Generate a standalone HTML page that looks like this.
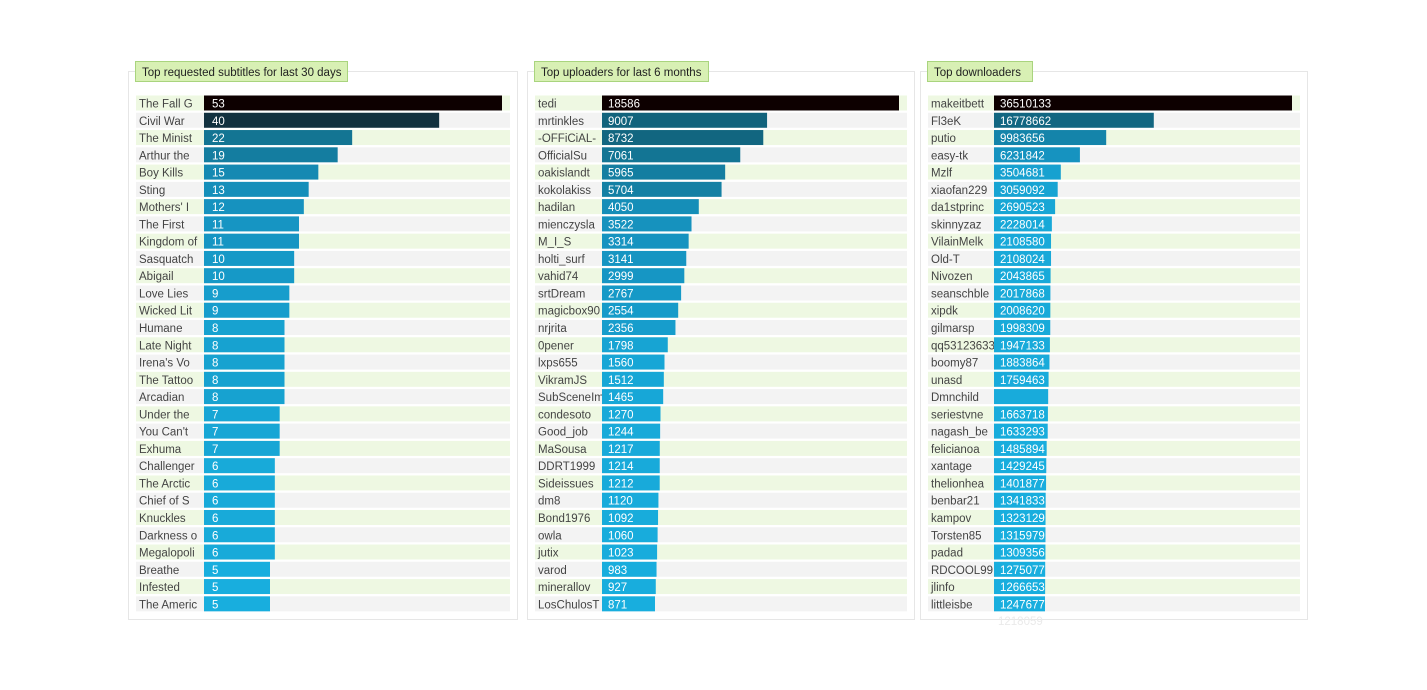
<!DOCTYPE html>
<html><head><meta charset="utf-8"><style>
body{margin:0;background:#fff;font-family:"Liberation Sans",Arial,sans-serif;}
svg text{font-family:"Liberation Sans",Arial,sans-serif;}
</style></head><body>
<svg id="chart" width="1427" height="685" xmlns="http://www.w3.org/2000/svg"></svg>
<script>
const subNames=["The Fall G","Civil War","The Minist","Arthur the","Boy Kills","Sting","Mothers' I","The First","Kingdom of","Sasquatch","Abigail","Love Lies","Wicked Lit","Humane","Late Night","Irena's Vo","The Tattoo","Arcadian","Under the","You Can't","Exhuma","Challenger","The Arctic","Chief of S","Knuckles","Darkness o","Megalopoli","Breathe","Infested","The Americ"];
const subValues=[53,40,22,19,15,13,12,11,11,10,10,9,9,8,8,8,8,8,7,7,7,6,6,6,6,6,6,5,5,5];
const upNames=["tedi","mrtinkles","-OFFiCiAL-","OfficialSu","oakislandt","kokolakiss","hadilan","mienczysla","M_I_S","holti_surf","vahid74","srtDream","magicbox90","nrjrita","0pener","lxps655","VikramJS","SubSceneIm","condesoto","Good_job","MaSousa","DDRT1999","Sideissues","dm8","Bond1976","owla","jutix","varod","minerallov","LosChulosT"];
const upValues=[18586,9007,8732,7061,5965,5704,4050,3522,3314,3141,2999,2767,2554,2356,1798,1560,1512,1465,1270,1244,1217,1214,1212,1120,1092,1060,1023,983,927,871];
const downNames=["makeitbett","Fl3eK","putio","easy-tk","Mzlf","xiaofan229","da1stprinc","skinnyzaz","VilainMelk","Old-T","Nivozen","seanschble","xipdk","gilmarsp","qq53123633","boomy87","unasd","Dmnchild","seriestvne","nagash_be","felicianoa","xantage","thelionhea","benbar21","kampov","Torsten85","padad","RDCOOL99","jlinfo","littleisbe"];
const downValues=[36510133,16778662,9983656,6231842,3504681,3059092,2690523,2228014,2108580,2108024,2043865,2017868,2008620,1998309,1947133,1883864,1759463,1700000,1663718,1633293,1485894,1429245,1401877,1341833,1323129,1315979,1309356,1275077,1266653,1247677];
const downLabels=downValues.map((v,i)=>i===17?"":String(v));
const titles=["Top requested subtitles for last 30 days","Top uploaders for last 6 months","Top downloaders"];

const NS="http://www.w3.org/2000/svg";
const svg=document.getElementById('chart');
function mk(tag,attrs,parent){const e=document.createElementNS(NS,tag);for(const k in attrs)e.setAttribute(k,attrs[k]);(parent||svg).appendChild(e);return e;}
const stops=[[0,[24,174,222]],[0.12,[22,150,196]],[0.4,[18,110,138]],[0.75,[18,45,58]],[1,[13,0,0]]];
function col(t){for(let i=1;i<stops.length;i++){if(t<=stops[i][0]){const a=stops[i-1],b=stops[i];const f=(t-a[0])/(b[0]-a[0]);const c=a[1].map((x,j)=>Math.round(x+(b[1][j]-x)*f));return `rgb(${c})`;}}return 'rgb(13,0,0)';}

const panels=[
 {x:128,w:389,hw:212,names:subNames,vals:subValues,labels:subValues.map(String),bx:204,name:'requested-subtitles'},
 {x:527,w:387,hw:174,names:upNames,vals:upValues,labels:upValues.map(String),bx:602,name:'top-uploaders'},
 {x:920,w:387,hw:105,names:downNames,vals:downValues,labels:downLabels,bx:994,name:'top-downloaders'}
];
panels.forEach((p,pi)=>{
 const g=mk('g',{});
 
 
 mk('rect',{x:p.x+0.5,y:71.5,width:p.w,height:548,fill:'#fff',stroke:'#e6e6e6'},g);
 const hr=mk('rect',{x:p.x+7.5,y:61.5,width:p.hw,height:20,fill:'#d8f0b4',stroke:'#a9d47e'},g);
 
 
 const ht=mk('text',{x:p.x+14,y:76,'font-size':11.5,fill:'#222'},g);
 ht.textContent=titles[pi];
 
 
 const max=Math.max(...p.vals),min=Math.min(...p.vals);
 const maxEnd=p.x+p.w-15, minW=(pi===0?66:(pi===1?53:51));
 const b=(maxEnd-p.bx-minW)/(max-min);
 const xw=v=>minW+(v-min)*b;
 p.names.forEach((n,i)=>{
  const y=95.5+i*17.27;
  const row=mk('rect',{x:p.x+8,y:y,width:p.w-15,height:15,fill:i%2===0?'#eef8e2':'#f3f3f3'},g);
  
  
  const lt=mk('text',{x:p.x+11,y:y+12,'font-size':11.5,fill:'#444'},g);
  lt.textContent=n;
  
  
  const v=p.vals[i];
  const bar=mk('rect',{x:p.bx,y:y,width:xw(v),height:15,fill:col((v-min)/(max-min))},g);
  
  
  const vt=mk('text',{x:p.bx+(pi===0?8:6),y:y+12,'font-size':11.5,fill:'#fff'},g);
  vt.textContent=p.labels[i];
  
  
 });
});
const ft=mk('text',{x:998,y:625,'font-size':11.5,fill:'#eaeaea'});
ft.textContent='1218059';


</script>
</body></html>
